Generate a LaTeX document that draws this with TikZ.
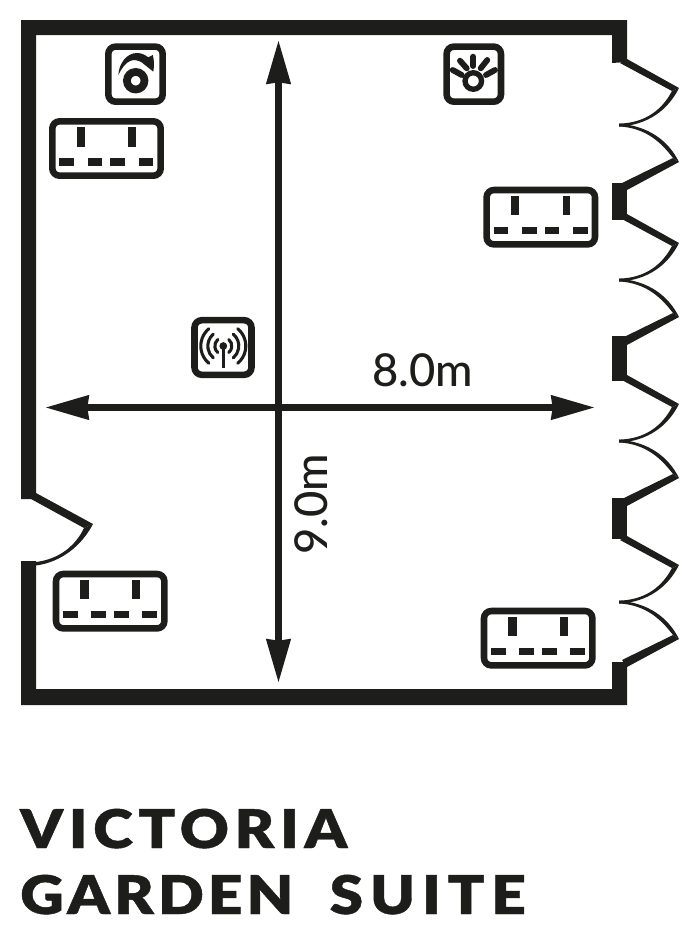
\documentclass[tikz,border=0pt]{standalone}
\usepackage{fontspec}
\usetikzlibrary{arrows.meta}
\setmainfont{Lato}
\newfontfamily\dimfont{Lato Medium}
\newfontfamily\titlefont[LetterSpace=10.7,FakeStretch=1.13,FakeBold=0.8]{Lato Black}
\newfontfamily\titlefontnarrow[LetterSpace=7.7,FakeStretch=1.13,FakeBold=0.8]{Lato Black}
\newfontfamily\titlefontwide[LetterSpace=13,FakeStretch=1.13,FakeBold=0.8]{Lato Black}
\definecolor{ink}{HTML}{1D1D1B}
\tikzset{
  wall/.style={fill=ink,draw=none},
  iconbox/.style={draw=ink,line width=4.9pt,rounded corners=5.5pt},
  pinbar/.style={fill=ink,draw=none},
  ray/.style={draw=ink,line width=4.4pt,line cap=round},
  wave/.style={draw=ink,line width=2.3pt,line cap=round},
  dimline/.style={draw=ink,line width=4.6pt,{Stealth[length=32.5pt,width=19pt,inset=1.5pt,line width=0pt]}-{Stealth[length=32.5pt,width=19pt,inset=1.5pt,line width=0pt]}},
  dimtext/.style={text=ink,font=\dimfont\fontsize{34}{40}\selectfont,inner sep=0pt,anchor=base},
  titletext/.style={text=ink,inner sep=0pt,anchor=base west}
}
\newcommand{\powersocket}[2]{%
  \begin{scope}[shift={(#1,#2)}]
    \draw[iconbox] (3.3,3.3) rectangle (111.7,57.7);
    \fill[pinbar] (27.7,9.3) rectangle (36,28.7);
    \fill[pinbar] (79.3,9.3) rectangle (87,28.7);
    \foreach \a in {10.3,38.7,61.3,89.7}
      \fill[pinbar] (\a,40.3) rectangle ({\a+14.7},47.7);
  \end{scope}}
\newcommand{\doorpair}[1]{%
  \begin{scope}[shift={(0,#1)}]
    \fill[wall] (627,-66) -- (679,-37) -- (672,-34) -- (620,-62) -- cycle;
    \fill[wall] (679,-37) .. controls (668,-15) and (648,0) .. (619,1.6)
       -- (619,-1.4) .. controls (645,-2) and (662,-15) .. (672,-34) -- cycle;
    \fill[wall] (679,37) .. controls (668,15) and (648,1) .. (619,-1.4)
       -- (619,1.4) .. controls (645,3) and (660,16) .. (673,33) -- cycle;
    \fill[wall] (679,37) -- (627,65) -- (622,58) -- (673,33) -- cycle;
  \end{scope}}
\begin{document}
\begin{tikzpicture}[x=0.75pt,y=-0.75pt]
\useasboundingbox (0,0) rectangle (700,947);
% walls
\fill[wall] (21,499) -- (21,20) -- (627,20) -- (627,62) -- (612,63) -- (612,35) -- (36,35) -- (36,493)
  -- (93,524) -- (84,528) -- (31,499) -- cycle;
\fill[wall] (21,561) -- (36,561) -- (36,689) -- (612,689) -- (612,662) -- (627,662) -- (627,705) -- (21,705) -- cycle;
\fill[wall] (93,524) .. controls (82,545) and (62,562) .. (36,565.5) -- (36,562)
  .. controls (60,559) and (76,545) .. (84,528) -- cycle;
\fill[wall] (612,183) rectangle (627,220);
\fill[wall] (612,336) rectangle (627,381);
\fill[wall] (612,498) rectangle (627,539);
\doorpair{125}
\doorpair{280}
\doorpair{441}
\doorpair{602}
% sockets
\powersocket{49}{118}
\powersocket{483.3}{186.7}
\powersocket{52.7}{570.7}
\powersocket{480.7}{607.7}
% rotary icon
\draw[iconbox] (108.3,46.6) rectangle (162.7,101.7);
\draw[draw=ink,line width=5.8pt] (135.7,80.7) circle[radius=6.6pt];
\fill[ink] (118.3,75) .. controls (119,63) and (127,53) .. (137,53) .. controls (142,53) and (145,55) .. (148.3,57.3)
  -- (152.7,55) .. controls (154,59) and (154.5,65) .. (153.3,71.7) -- (141.7,62.3)
  .. controls (138,60) and (133,59.5) .. (130,61) .. controls (126,62.5) and (121,69) .. (118.3,75) -- cycle;
% sun icon
\draw[iconbox] (446.6,46.6) rectangle (501,101.7);
\draw[draw=ink,line width=4pt] (473.3,81) circle[radius=6.2pt];
\draw[ray] (473.3,56.7) -- (473.3,66);
\draw[ray] (460,60.7) -- (466.7,68.3);
\draw[ray] (487.3,60) -- (480.7,68.3);
\draw[ray] (452.7,70) -- (461.7,75);
\draw[ray] (495,70) -- (486,75);
% wireless icon
\draw[iconbox] (194.5,320.2) rectangle (251.5,374.8);
\fill[ink] (223.3,346) circle[radius=2.9pt];
\draw[draw=ink,line width=2pt] (223.3,346) -- (223.3,368);
\foreach \r in {8.5,15.5,22.5}{
  \draw[wave] ({223.3+.643*\r},{346-.766*\r}) arc[start angle=50,end angle=-50,radius=\r*0.75pt];
  \draw[wave] ({223.3-.643*\r},{346-.766*\r}) arc[start angle=130,end angle=230,radius=\r*0.75pt];
}
% dimensions
\coordinate (vtop) at (278.5,41);
\coordinate (vbot) at (278.5,682);
\coordinate (hleft) at (46,407.5);
\coordinate (hright) at (594,407.5);
\draw[dimline] (vtop) -- (vbot);
\draw[dimline] (hleft) -- (hright);
\node[dimtext] (widthlabel) at (422.5,386.5) {8.0m};
\node[dimtext,rotate=90] (heightlabel) at (327,504.5) {9.0m};
% title
\node[titletext,font=\titlefont\fontsize{40}{48}\selectfont] (titleone) at (20,848) {VICTORIA};
\node[titletext,font=\fontsize{40}{48}\selectfont] (titletwo) at (20,914) {{\titlefontnarrow GARDEN} \hspace{17pt}{\titlefontwide SUITE}};
\end{tikzpicture}
\end{document}
